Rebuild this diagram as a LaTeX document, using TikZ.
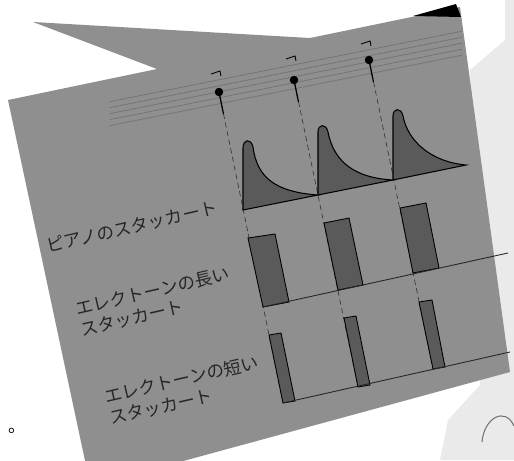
\documentclass[tikz,border=0pt]{standalone}
\usepackage{fontspec}
\newfontfamily\jpfont{Noto Sans CJK JP}
\usepackage{xcolor}
\definecolor{sheetgrey}{HTML}{8F8F8F}
\definecolor{wavegrey}{HTML}{5A5A5A}
\definecolor{pagegrey}{HTML}{EAEAEA}
\tikzset{
  sheet/.style={fill=sheetgrey, draw=none},
  wave/.style={fill=wavegrey, draw=black, line width=0.6pt},
  keybar/.style={fill=wavegrey, draw=black, line width=0.5pt},
  staffline/.style={draw=black!55, line width=0.4pt},
  guide/.style={draw=black!80, line width=0.35pt, densely dashed},
  rowline/.style={draw=black!85, line width=0.5pt},
  notehead/.style={circle, fill=black, inner sep=0pt, minimum size=1.7mm},
  lbl/.style={font=\jpfont\fontsize{10}{12.5}\selectfont, text=black!85,
              rotate=13, align=left, inner sep=0pt},
}
\begin{document}
\begin{tikzpicture}[x=0.02cm, y=-0.02cm]
\useasboundingbox (0,0) rectangle (514,460);

% page behind, right side
\fill[pagegrey] (470,70) -- (505,40) -- (505,0) -- (514,0) -- (514,460) -- (440,460) -- (448,420) -- (480,385) -- cycle;
\draw[black!55, line width=0.6pt] (482,442) .. controls (484,418) and (505,406) .. (514,426);

% the tilted sheet
\path[sheet] (8,100) -- (157,69) -- (33,22) -- (310,38) -- (460,7) -- (510,372) -- (187,460) -- (150,470) -- (87,470) -- cycle;
\fill[black] (413,16) -- (456,4) -- (461,17) -- cycle;

% staff
\draw[staffline] (110,101.6) -- (462,31.2);
\draw[staffline] (110,107.6) -- (462,37.2);
\draw[staffline] (110,113.6) -- (462,43.2);
\draw[staffline] (110,119.6) -- (462,49.2);
\draw[staffline] (110,125.6) -- (462,55.2);

% notes
\node[notehead] (note1) at (219,92) {};
\node[notehead] (note2) at (294,80) {};
\node[notehead] (note3) at (369,60) {};
\coordinate (foot1) at (283,403);
\coordinate (foot2) at (358,387);
\coordinate (foot3) at (433,369);
\draw[guide] (note1) -- (foot1);
\draw[guide] (note2) -- (foot2);
\draw[guide] (note3) -- (foot3);
\draw[line width=0.7pt] (note1.center) -- ++(4.5,22);
\draw[line width=0.7pt] (note2.center) -- ++(4.5,22);
\draw[line width=0.7pt] (note3.center) -- ++(4.5,22);
\draw[line width=0.5pt] (211,74) -- (220,71) -- (221,76);
\draw[line width=0.5pt] (286,59) -- (295,56) -- (296,61);
\draw[line width=0.5pt] (361,44) -- (370,41) -- (371,46);

% piano
\draw[wave] (243,210) -- (243,148) .. controls (243,139) and (251,138) .. (253,147) .. controls (257,178) and (276,192) .. (318,195) -- cycle;
\draw[wave] (318,195) -- (318,132) .. controls (318,124) and (326,123) .. (328,132) .. controls (334,163) and (356,178) .. (393,180) -- cycle;
\draw[wave] (393,180) -- (393,116) .. controls (393,108) and (401,107) .. (403,116) .. controls (408,142) and (432,162) .. (466,165) -- cycle;

% electone, long
\draw[keybar] (248,238) -- (275,234) -- (289,302) -- (263,307) -- cycle;
\draw[keybar] (324,223) -- (349,218) -- (363,285) -- (338,290) -- cycle;
\draw[keybar] (400,208) -- (426,203) -- (439,268) -- (413,273) -- cycle;
\draw[rowline] (263,307) -- (508,253);

% electone, short
\draw[keybar] (269,335) -- (281,333) -- (295,401) -- (283,403) -- cycle;
\draw[keybar] (344,318) -- (356,316) -- (370,385) -- (358,387) -- cycle;
\draw[keybar] (419,302) -- (432,300) -- (445,367) -- (433,369) -- cycle;
\draw[rowline] (foot1) -- (510,352);

% labels
\node[lbl] (pianolbl) at (132,227) {ピアノのスタッカート};
\node[lbl] (longlbl) at (155,302) {エレクトーンの長い\\スタッカート};
\node[lbl] (shortlbl) at (184,390) {エレクトーンの短い\\スタッカート};
\node[font=\jpfont\fontsize{10}{12}\selectfont, anchor=base west, inner sep=0pt] (maru) at (8.6,432) {。};
\end{tikzpicture}
\end{document}
